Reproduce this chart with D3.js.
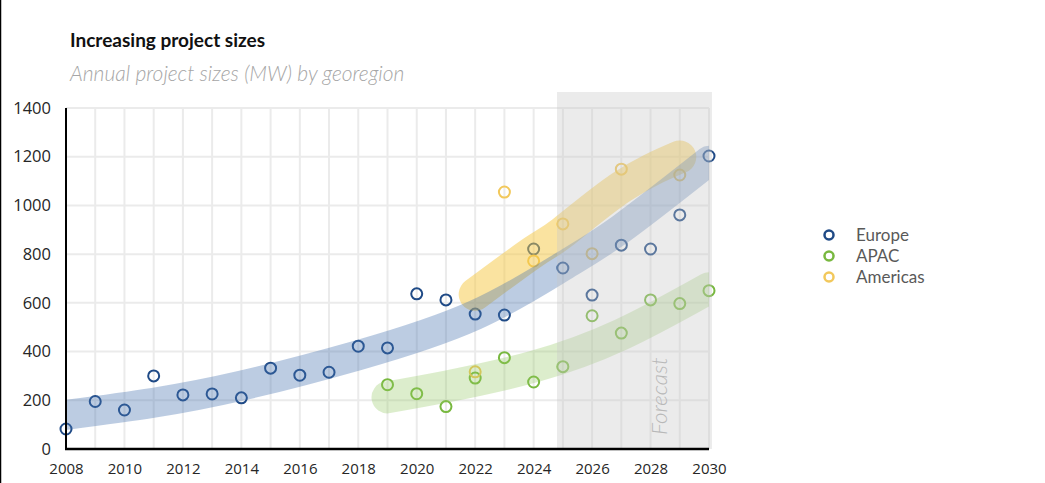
<!DOCTYPE html>
<html>
<head>
<meta charset="utf-8">
<script src="https://cdn.jsdelivr.net/npm/d3@7"></script>
<style>
  html, body { margin: 0; padding: 0; background: #fff; }
  svg { display: block; }
</style>
</head>
<body>
<svg id="chart" width="1045" height="483"></svg>
<script>
// ---- data ----
const years = d3.range(2008, 2031);
const yTicks = [0, 200, 400, 600, 800, 1000, 1200, 1400];
const xTicks = [2008, 2010, 2012, 2014, 2016, 2018, 2020, 2022, 2024, 2026, 2028, 2030];

const europeYears = [2008,2009,2010,2011,2012,2013,2014,2015,2016,2017,2018,2019,2020,2021,2022,2023,2024,2025,2026,2027,2028,2029,2030];
const europeValues = [82,195,160,300,222,226,210,332,303,315,422,415,637,612,554,550,821,743,632,837,821,961,1203];

const apacYears = [2019,2020,2021,2022,2023,2024,2025,2026,2027,2028,2029,2030];
const apacValues = [264,227,174,291,375,275,338,547,476,612,597,650];

const americasYears = [2022,2023,2024,2025,2026,2027,2029];
const americasValues = [317,1055,772,924,802,1149,1125];

// trend bands
const europeTrendYears = [2008,2011,2014,2018,2022,2025,2027,2030];
const europeTrendValues = [140,190,260,385,550,750,905,1183];
const apacTrendYears = [2019,2021,2024,2027,2030];
const apacTrendValues = [212,256,338,470,660];
const americasTrendYears = [2022,2024,2025,2027,2029];
const americasTrendValues = [635,810,890,1075,1199];

const forecastStart = 2024.8;
const forecastEnd = 2030.1;

const seriesNames = ["Europe", "APAC", "Americas"];
const seriesColors = ["#1f4a86", "#78b83f", "#f2c85b"];

// ---- layout ----
const svg = d3.select("#chart");
const x = d3.scaleLinear().domain([2008, 2030]).range([66, 709]);
const y = d3.scaleLinear().domain([0, 1400]).range([449, 108]);

// left frame line
svg.append("line").attr("x1", 0.5).attr("x2", 0.5).attr("y1", 0).attr("y2", 483)
  .attr("stroke", "#000").attr("stroke-width", 1.5);

// title
svg.append("text").attr("x", 70).attr("y", 47)
  .attr("font-family", "Lato, 'Open Sans', sans-serif").attr("font-size", 19)
  .attr("font-weight", 700).attr("fill", "#111")
  .text("Increasing project sizes");
svg.append("text").attr("x", 70).attr("y", 81)
  .attr("font-family", "Lato, 'Open Sans', sans-serif").attr("font-size", 21)
  .attr("font-style", "italic").attr("font-weight", 300).attr("fill", "#a6a6a6")
  .text("Annual project sizes (MW) by georegion");

// grid
const grid = svg.append("g");
grid.selectAll("line.h").data(yTicks.slice(1)).join("line")
  .attr("x1", x(2008)).attr("x2", x(2030))
  .attr("y1", d => y(d)).attr("y2", d => y(d))
  .attr("stroke", "#ebebeb").attr("stroke-width", 2);
grid.selectAll("line.v").data(years.slice(1)).join("line")
  .attr("x1", d => x(d)).attr("x2", d => x(d))
  .attr("y1", y(1400)).attr("y2", y(0))
  .attr("stroke", "#ebebeb").attr("stroke-width", 2);

// points (drawn beneath the translucent trend bands)
const pts = svg.append("g");
function points(ys, vs, color) {
  pts.append("g").selectAll("circle").data(ys.map((yy, i) => [yy, vs[i]])).join("circle")
    .attr("cx", d => x(d[0])).attr("cy", d => y(d[1])).attr("r", 5.5)
    .attr("fill", "none").attr("stroke", color).attr("stroke-width", 2);
}
points(europeYears, europeValues, seriesColors[0]);
points(apacYears, apacValues, seriesColors[1]);
points(americasYears, americasValues, seriesColors[2]);

// clip for bands
svg.append("defs").append("clipPath").attr("id", "plotclip")
  .append("rect").attr("x", x(2008)).attr("y", 0).attr("width", x(2030) - x(2008)).attr("height", 483);

const line = d3.line().x(d => x(d[0])).y(d => y(d[1])).curve(d3.curveNatural);
const bands = svg.append("g").attr("clip-path", "url(#plotclip)");
function band(ys, vs, color, width) {
  bands.append("path")
    .attr("d", line(ys.map((yy, i) => [yy, vs[i]])))
    .attr("fill", "none").attr("stroke", color).attr("stroke-width", width)
    .attr("stroke-linecap", "round").attr("stroke-linejoin", "round");
}
band(apacTrendYears, apacTrendValues, "rgba(146,200,95,0.32)", 32);
band(americasTrendYears, americasTrendValues, "rgba(245,200,66,0.5)", 33);
band(europeTrendYears, europeTrendValues, "rgba(68,114,176,0.36)", 30);

// forecast overlay
svg.append("rect")
  .attr("x", x(forecastStart)).attr("y", 92)
  .attr("width", x(forecastEnd) - x(forecastStart)).attr("height", y(0) - 92)
  .attr("fill", "rgba(200,200,200,0.36)");
svg.append("text")
  .attr("transform", `translate(${x(2028.56)},${y(0) - 14}) rotate(-90)`)
  .attr("font-family", "Lato, 'Open Sans', sans-serif").attr("font-size", 22.5)
  .attr("font-style", "italic").attr("font-weight", 300).attr("fill", "#b8b8b8")
  .text("Forecast");

// axes lines
svg.append("line").attr("x1", x(2008)).attr("x2", x(2008)).attr("y1", y(1400)).attr("y2", y(0) + 1)
  .attr("stroke", "#000").attr("stroke-width", 2);
svg.append("line").attr("x1", x(2008) - 1).attr("x2", x(2030)).attr("y1", y(0)).attr("y2", y(0))
  .attr("stroke", "#000").attr("stroke-width", 2.5);

// axis labels via d3 axes
const yAxis = svg.append("g").attr("transform", `translate(${x(2008) - 15},0)`)
  .call(d3.axisLeft(y).tickValues(yTicks).tickSize(0).tickPadding(0).tickFormat(d3.format("d")));
yAxis.select(".domain").remove();
yAxis.selectAll("text").attr("font-family", "'Open Sans', sans-serif").attr("font-size", 16.5).attr("fill", "#262626");

const xAxis = svg.append("g").attr("transform", `translate(0,${y(0) + 14})`)
  .call(d3.axisBottom(x).tickValues(xTicks).tickSize(0).tickPadding(0).tickFormat(d3.format("d")));
xAxis.select(".domain").remove();
xAxis.selectAll("text").attr("font-family", "'Open Sans', sans-serif").attr("font-size", 15).attr("fill", "#262626");

// legend
const legend = svg.append("g");
seriesNames.forEach((name, i) => {
  const gy = 235 + i * 21;
  legend.append("circle").attr("cx", 829).attr("cy", gy).attr("r", 4.5)
    .attr("fill", "none").attr("stroke", seriesColors[i]).attr("stroke-width", 2.5);
  legend.append("text").attr("x", 856).attr("y", gy + 6)
    .attr("font-family", "Lato, 'Open Sans', sans-serif").attr("font-size", 17)
    .attr("fill", "#595959").text(name);
});
</script>
</body>
</html>
